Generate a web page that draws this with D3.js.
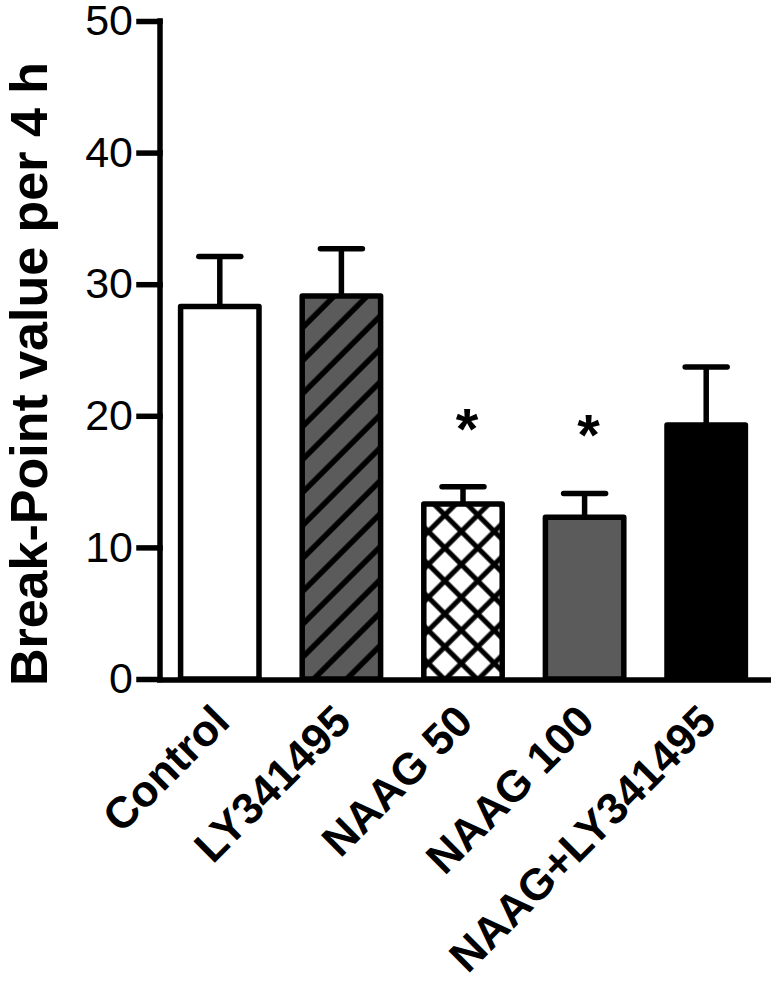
<!DOCTYPE html>
<html lang="en">
<head>
  <meta charset="UTF-8">
  <title>Break-Point value per 4 h</title>
  <style>
  body { margin: 0; background: #fff; }
  svg { display: block; font-family: 'Liberation Sans', Arial, sans-serif; }
  .axis path, .axis line { stroke: #000; stroke-width: 5.5px; }
  .axis text { font-size: 43px; fill: #000; }
  .xlabel { font-size: 44px; font-weight: bold; }
  </style>
</head>
<body>
  <svg></svg>
  <script src="https://d3js.org/d3.v7.min.js"></script>
  <script>

  var groups = ['Control', 'LY341495', 'NAAG 50', 'NAAG 100', 'NAAG+LY341495'];
  var means = [28.3, 29.1, 13.3, 12.3, 19.3];
  var sems = [3.8, 3.6, 1.3, 1.8, 4.4];
  var stars = [false, false, true, true, false];
  var yTicks = [0, 10, 20, 30, 40, 50];
  var fills = ['#fff', 'url(#hatch)', 'url(#cross)', '#5b5b5b', '#000'];

  var width = 774, height = 981;
  var sw = 5.5;

  var svg = d3.select('svg').attr('width', width).attr('height', height);

  // patterns for the hatched bars
  var defs = svg.append('defs');
  var hatch = defs.append('pattern')
    .attr('id', 'hatch')
    .attr('patternUnits', 'userSpaceOnUse')
    .attr('width', 23.3).attr('height', 23.3)
    .attr('patternTransform', 'rotate(45)');
  hatch.append('rect').attr('width', 23.3).attr('height', 23.3).attr('fill', '#5b5b5b');
  hatch.append('line').attr('x1', 3).attr('x2', 3).attr('y1', 0).attr('y2', 23.3)
    .attr('stroke', '#000').attr('stroke-width', 5.5);

  var cross = defs.append('pattern')
    .attr('id', 'cross')
    .attr('patternUnits', 'userSpaceOnUse')
    .attr('width', 23.3).attr('height', 23.3)
    .attr('patternTransform', 'rotate(45)');
  cross.append('rect').attr('width', 23.3).attr('height', 23.3).attr('fill', '#fff');
  cross.append('line').attr('x1', 3).attr('x2', 3).attr('y1', 0).attr('y2', 23.3)
    .attr('stroke', '#000').attr('stroke-width', 5);
  cross.append('line').attr('x1', 0).attr('x2', 23.3).attr('y1', 3).attr('y2', 3)
    .attr('stroke', '#000').attr('stroke-width', 5);

  var x = d3.scaleBand()
    .domain(groups)
    .range([159, 767])
    .paddingInner(0.31)
    .paddingOuter(0.155);

  var y = d3.scaleLinear().domain([0, 50]).range([679, 21]);

  // error bars (drawn under the bars)
  var err = svg.append('g').selectAll('g')
    .data(groups)
    .enter()
    .append('g');

  err.append('line')
    .attr('x1', function (d) { return x(d) + x.bandwidth() / 2; })
    .attr('x2', function (d) { return x(d) + x.bandwidth() / 2; })
    .attr('y1', function (d, i) { return y(means[i]); })
    .attr('y2', function (d, i) { return y(means[i] + sems[i]); })
    .attr('stroke', '#000').attr('stroke-width', sw);

  err.append('line')
    .attr('x1', function (d) { return x(d) + x.bandwidth() / 2 - 21; })
    .attr('x2', function (d) { return x(d) + x.bandwidth() / 2 + 21; })
    .attr('y1', function (d, i) { return y(means[i] + sems[i]); })
    .attr('y2', function (d, i) { return y(means[i] + sems[i]); })
    .attr('stroke', '#000').attr('stroke-width', sw)
    .attr('stroke-linecap', 'round');

  svg.append('g').selectAll('rect')
    .data(groups)
    .enter()
    .append('rect')
    .attr('x', function (d) { return x(d) + sw / 2; })
    .attr('width', x.bandwidth() - sw)
    .attr('y', function (d, i) { return y(means[i]); })
    .attr('height', function (d, i) { return y(0) - y(means[i]); })
    .attr('fill', function (d, i) { return fills[i]; })
    .attr('stroke', '#000')
    .attr('stroke-width', sw)
    .attr('stroke-linejoin', 'round');

  // significance marks
  svg.append('g').selectAll('text')
    .data(groups.filter(function (d, i) { return stars[i]; }))
    .enter()
    .append('text')
    .attr('x', function (d) { return x(d) + x.bandwidth() / 2 + 4; })
    .attr('y', function (d) {
      var i = groups.indexOf(d);
      return y(means[i] + sems[i]) - 38;
    })
    .attr('text-anchor', 'middle')
    .attr('font-size', 58)
    .attr('font-weight', 'bold')
    .text('*');

  // y axis
  var yAxis = svg.append('g')
    .attr('class', 'axis')
    .attr('transform', 'translate(160,0)')
    .call(d3.axisLeft(y).tickValues(yTicks).tickSize(21).tickSizeOuter(0).tickPadding(6));
  yAxis.select('.domain').attr('d', 'M0,' + (y(50) - sw / 2) + 'V' + (y(0) + sw / 2));
  yAxis.selectAll('.tick line').attr('stroke-linecap', 'square');

  // x axis line
  svg.append('line')
    .attr('x1', 157).attr('x2', 771)
    .attr('y1', y(0) + 1).attr('y2', y(0) + 1)
    .attr('stroke', '#000').attr('stroke-width', sw);

  // category labels
  svg.append('g').selectAll('text')
    .data(groups)
    .enter()
    .append('text')
    .attr('class', 'xlabel')
    .attr('text-anchor', 'end')
    .attr('transform', function (d) {
      return 'translate(' + (x(d) + x.bandwidth() / 2 + 12) + ',724) rotate(-45)';
    })
    .text(function (d) { return d; });

  svg.append('text')
    .attr('transform', 'translate(47,374) rotate(-90)')
    .attr('text-anchor', 'middle')
    .attr('font-size', 52)
    .attr('font-weight', 'bold')
    .text('Break-Point value per 4 h');

  </script>
</body>
</html>
